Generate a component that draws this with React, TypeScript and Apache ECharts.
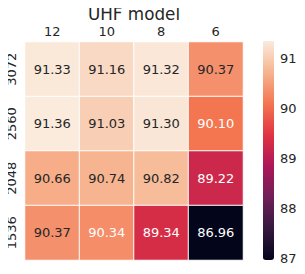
import React, { useEffect, useRef } from "react";
import * as echarts from "echarts";

const title = "UHF model";
const xCategories = ["12", "10", "8", "6"];
const yCategories = ["3072", "2560", "2048", "1536"]; // top to bottom
const values: number[][] = [
  [91.33, 91.16, 91.32, 90.37],
  [91.36, 91.03, 91.30, 90.10],
  [90.66, 90.74, 90.82, 89.22],
  [90.37, 90.34, 89.34, 86.96],
];
const colorbarTicks = [87, 88, 89, 90, 91];
const rocket = ["#03051A", "#35193E", "#701F57", "#AD1759", "#E13342", "#F37651", "#F6B48F", "#FAEBDD"];

const FONT = "DejaVu Sans";
const TEXT = "#262626";

function hexToRgb(h: string) {
  return [parseInt(h.slice(1, 3), 16), parseInt(h.slice(3, 5), 16), parseInt(h.slice(5, 7), 16)];
}
function colorAt(t: number) {
  const n = rocket.length - 1;
  const p = Math.max(0, Math.min(1, t)) * n;
  const i = Math.min(n - 1, Math.floor(p));
  const f = p - i;
  const a = hexToRgb(rocket[i]);
  const b = hexToRgb(rocket[i + 1]);
  return a.map((v, k) => v + (b[k] - v) * f);
}
function lum(rgb: number[]) {
  const c = rgb.map((v) => {
    const s = v / 255;
    return s <= 0.03928 ? s / 12.92 : Math.pow((s + 0.055) / 1.055, 2.4);
  });
  return 0.2126 * c[0] + 0.7152 * c[1] + 0.0722 * c[2];
}

export default function App() {
  const ref = useRef<HTMLDivElement>(null);
  useEffect(() => {
    if (!ref.current) return;
    const chart = echarts.init(ref.current, null, { renderer: "svg" });
    const flat = values.flat();
    const vmin = Math.min(...flat);
    const vmax = Math.max(...flat);
    const data: any[] = [];
    values.forEach((row, r) => {
      row.forEach((v, c) => {
        const l = lum(colorAt((v - vmin) / (vmax - vmin)));
        data.push({
          value: [c, yCategories.length - 1 - r, v],
          label: { color: l > 0.398 ? TEXT : "#ffffff" },
        });
      });
    });
    chart.setOption({
      animation: false,
      graphic: [
        {
          type: "text",
          x: 134,
          y: 14,
          style: {
            text: title,
            fontFamily: FONT,
            fontSize: 16.8,
            fill: TEXT,
            textAlign: "center",
            textVerticalAlign: "middle",
          },
        },
      ],
      grid: [
        { left: 25, top: 42, width: 218, height: 218 },
        { left: 263, top: 41, width: 11, height: 219 },
      ],
      xAxis: [
        {
          type: "category",
          gridIndex: 0,
          position: "top",
          data: xCategories,
          axisLine: { show: false },
          axisTick: { show: false },
          axisLabel: { fontFamily: FONT, fontSize: 13, color: TEXT, margin: 4 },
          splitLine: { show: false },
        },
        { type: "value", gridIndex: 1, show: false, min: 0, max: 1 },
      ],
      yAxis: [
        {
          type: "category",
          gridIndex: 0,
          data: [...yCategories].reverse(),
          axisLine: { show: false },
          axisTick: { show: false },
          axisLabel: { fontFamily: FONT, fontSize: 13, color: TEXT, rotate: 90, margin: 7 },
        },
        {
          type: "value",
          gridIndex: 1,
          position: "right",
          min: vmin,
          max: vmax,
          axisLine: { show: false },
          splitLine: { show: false },
          axisTick: { show: true, length: 3.5, customValues: colorbarTicks, lineStyle: { color: TEXT, width: 1 } },
          axisLabel: { customValues: colorbarTicks, fontFamily: FONT, fontSize: 13, color: TEXT, margin: 6 },
        },
      ],
      visualMap: {
        type: "continuous",
        seriesIndex: 0,
        dimension: 2,
        min: vmin,
        max: vmax,
        calculable: false,
        hoverLink: false,
        showLabel: false,
        text: ["", ""],
        left: 263,
        top: 41,
        itemWidth: 11,
        itemHeight: 219,
        padding: 0,
        inRange: { color: rocket },
      },
      series: [
        {
          type: "heatmap",
          xAxisIndex: 0,
          yAxisIndex: 0,
          data,
          itemStyle: { borderColor: "#ffffff", borderWidth: 1 },
          label: {
            show: true,
            fontFamily: FONT,
            fontSize: 13,
            formatter: (p: any) => p.value[2].toFixed(2),
          },
        },
        { type: "line", xAxisIndex: 1, yAxisIndex: 1, data: [], silent: true },
      ],
    });
    return () => chart.dispose();
  }, []);
  return <div ref={ref} style={{ width: 305, height: 274, margin: -8 }} />;
}
